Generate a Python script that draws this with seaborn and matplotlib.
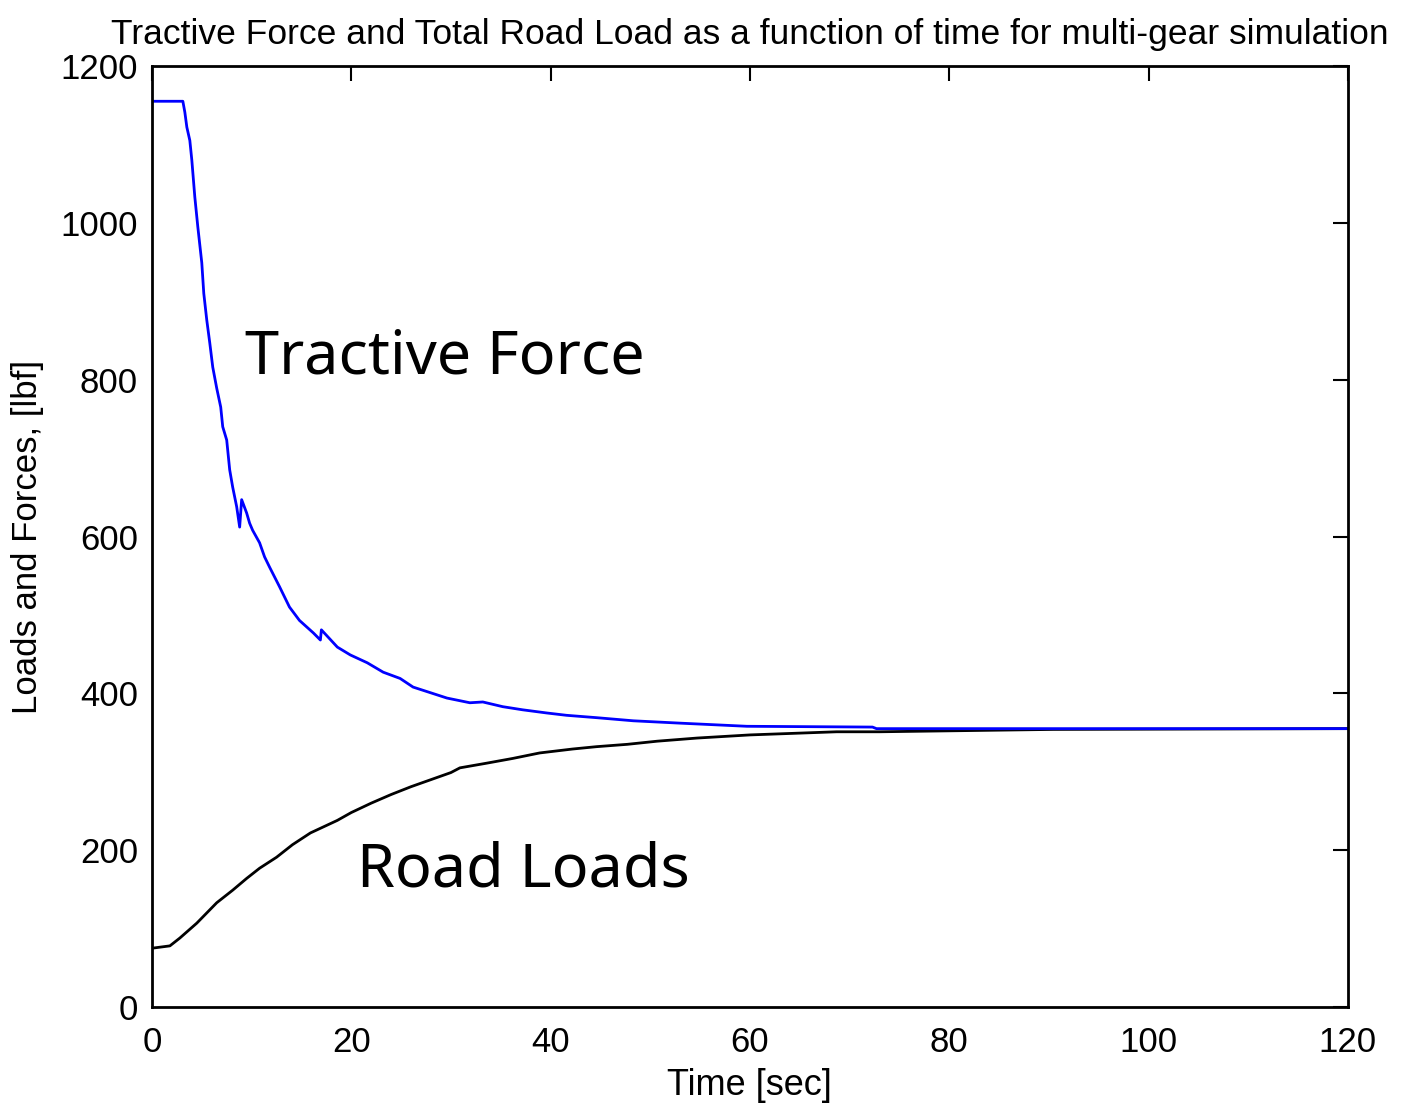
import numpy as np
import pandas as pd
import matplotlib
matplotlib.use("Agg")
import matplotlib.pyplot as plt
import seaborn as sns

# Tractive force (blue)
tf_time = [0.0, 3.1, 3.3, 3.5, 3.8, 4.0, 4.3, 4.6, 5.0, 5.2, 5.5, 5.8, 6.1, 6.5, 6.9,
           7.1, 7.5, 7.8, 8.1, 8.5, 8.8, 9.0, 9.5, 9.8, 10.1, 10.8, 11.3, 11.8, 12.8,
           13.8, 14.8, 16.2, 16.9, 17.0, 18.6, 19.9, 21.6, 23.2, 24.9, 26.2, 29.6,
           31.9, 33.2, 35.2, 37.2, 39.6, 41.6, 44.6, 48.3, 53.0, 59.7, 72.3, 72.7,
           90.4, 120.0]
tf_force = [1155, 1155, 1141, 1122, 1105, 1080, 1033, 995, 949, 910, 876, 847, 816,
            789, 765, 740, 723, 685, 663, 638, 612, 647, 630, 617, 608, 592, 574, 561,
            536, 510, 493, 477, 468, 481, 459, 449, 439, 427, 419, 408, 394, 388, 389,
            383, 379, 375, 372, 369, 365, 362, 358, 357, 355, 355, 355]

# Road loads (black)
rl_time = [0.0, 1.8, 2.8, 4.5, 6.5, 8.1, 9.5, 10.8, 12.5, 14.1, 15.9, 18.6, 20.0,
           22.0, 24.0, 26.0, 28.0, 30.0, 30.9, 33.6, 36.2, 38.9, 42.2, 44.6, 47.7,
           50.7, 54.7, 60.0, 68.7, 73.0, 90.4, 120.0]
rl_load = [75, 78, 88, 107, 133, 149, 164, 177, 191, 207, 222, 238, 248, 260, 271,
           281, 290, 299, 305, 311, 317, 324, 329, 332, 335, 339, 343, 347, 351, 351,
           354, 355]

title = "Tractive Force and Total Road Load as a function of time for multi-gear simulation"
xlabel = "Time [sec]"
ylabel = "Loads and Forces, [lbf]"
xticks = [0, 20, 40, 60, 80, 100, 120]
yticks = [0, 200, 400, 600, 800, 1000, 1200]

sns.set_theme(style="white")
plt.rcParams['font.family'] = ['Liberation Sans', 'DejaVu Sans']
plt.rcParams['text.color'] = 'black'
plt.rcParams['axes.labelcolor'] = 'black'

fig = plt.figure(figsize=(14.07, 11.07), dpi=100)
ax = fig.add_axes([0.108, 0.0903, 0.850, 0.8501])

df_tf = pd.DataFrame({"t": tf_time, "f": tf_force})
df_rl = pd.DataFrame({"t": rl_time, "f": rl_load})
sns.lineplot(data=df_rl, x="t", y="f", ax=ax, color="black", linewidth=2.0, sort=False)
sns.lineplot(data=df_tf, x="t", y="f", ax=ax, color="#0000ff", linewidth=2.0, sort=False)

ax.set_xlim(0, 120)
ax.set_ylim(0, 1200)
ax.set_xticks(xticks)
ax.set_yticks(yticks)
ax.tick_params(direction="in", length=11, width=1.5, top=True, right=True,
               labelsize=25, colors="black")
ax.tick_params(axis="x", pad=14)
ax.tick_params(axis="y", pad=10)
for sp in ax.spines.values():
    sp.set_linewidth(2.0)
    sp.set_color("black")

ax.set_title(title, fontsize=25.5, color="black", pad=16)
ax.set_xlabel(xlabel, fontsize=26, color="black", labelpad=6)
ax.set_ylabel(ylabel, fontsize=25, color="black", labelpad=12)

ax.text(9.33, 808, "Tractive Force", fontsize=44, family=['Noto Sans', 'DejaVu Sans'],
        ha="left", va="baseline", color="black")
ax.text(20.6, 154, "Road Loads", fontsize=44, family=['Noto Sans', 'DejaVu Sans'],
        ha="left", va="baseline", color="black")

fig.savefig("out.png", dpi=100, facecolor="white")
